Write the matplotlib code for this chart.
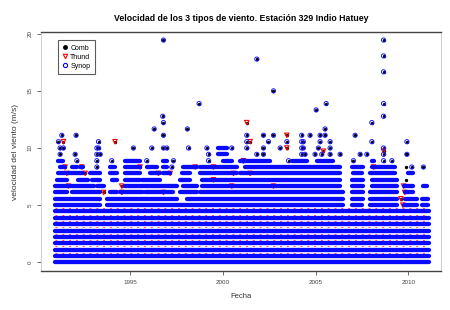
import matplotlib
matplotlib.use('Agg')
import matplotlib.pyplot as plt
from matplotlib.lines import Line2D

plt.rcParams['font.family'] = ['Liberation Sans', 'DejaVu Sans']

# ---------------- data (speeds recorded in km/h, plotted in m/s) ----------------
# Dense Synop records: (speed km/h, from year, to year)
band_kmh = [0, 2, 4, 6, 8, 10, 12, 14, 16,
            18, 18, 18, 18, 18, 18,
            20, 20, 20, 20, 20, 20, 20,
            22, 22, 22, 22, 22, 22, 22, 22, 22, 22,
            24, 24, 24, 24, 24, 24, 24, 24, 24,
            26, 26, 26, 26, 26, 26, 26, 26, 26, 26,
            28, 28, 28, 28, 28, 28, 28, 28, 28, 28, 28, 28, 28,
            30, 30, 30, 30, 30, 30, 30, 30, 30, 30, 30, 30,
            32, 32, 32, 32, 32, 32, 32, 32, 32,
            34, 36]
band_from = [1990.95, 1990.95, 1990.95, 1990.95, 1990.95, 1990.95, 1990.95, 1990.95, 1990.95,
             1990.96, 1993.74, 2006.95, 2007.94, 2009.74, 2010.72,
             1990.96, 1993.74, 1998.06, 2006.95, 2007.94, 2009.83, 2010.72,
             1990.96, 1991.86, 1993.92, 1994.46, 1995.81, 1997.70, 1998.78, 2006.95, 2007.94, 2009.83,
             1990.96, 1993.21, 1994.73, 1997.88, 1998.87, 2006.95, 2008.03, 2009.74, 2010.81,
             1991.05, 1992.22, 1992.94, 1994.01, 1994.73, 1995.63, 1997.70, 1998.87, 2006.95, 2008.03,
             1991.14, 1991.68, 1992.85, 1993.92, 1994.73, 1996.08, 1996.80, 1997.79, 1998.78, 2000.93, 2007.04, 2007.94, 2010.00,
             1991.23, 1991.86, 1992.31, 1993.92, 1994.73, 1995.90, 1996.80, 1997.88, 1998.78, 2001.20, 2006.95, 2008.03,
             1991.14, 1994.73, 1996.80, 1999.99, 2000.93, 2003.72, 2005.06, 2005.42, 2008.03,
             1999.76, 1999.76]
band_to = [2011.10, 2011.10, 2011.10, 2011.10, 2011.10, 2011.10, 2011.10, 2011.10, 2011.10,
           1993.39, 2006.50, 2007.49, 2009.38, 2010.45, 2011.08,
           1993.39, 1997.52, 2006.50, 2007.58, 2009.38, 2010.45, 2011.08,
           1991.59, 1993.39, 1994.28, 1995.72, 1997.34, 1998.60, 2006.50, 2007.58, 2009.38, 2010.27,
           1993.03, 1993.57, 1997.52, 1998.60, 2006.32, 2007.58, 2009.38, 2010.27, 2010.99,
           1991.59, 1992.76, 1993.39, 1994.28, 1995.54, 1996.62, 1998.24, 2006.32, 2007.58, 2009.38,
           1991.50, 1992.49, 1993.39, 1994.28, 1995.54, 1996.62, 1997.16, 1998.24, 2000.75, 2006.32, 2007.49, 2009.29, 2010.27,
           1991.50, 1992.13, 1992.49, 1994.19, 1995.54, 1996.44, 1996.98, 1998.60, 2000.75, 2006.32, 2007.58, 2009.29,
           1991.41, 1995.54, 1996.98, 2000.48, 2002.55, 2004.52, 2005.33, 2005.96, 2008.12,
           2000.21, 2000.21]

# Isolated Synop records (also in Comb)
sparse_year = [1993.21, 1997.25, 2010.18, 2010.81,
               1992.13, 1993.21, 1994.01, 1995.90, 1997.34, 1999.23, 2001.11, 2003.54, 2007.04, 2008.66, 2009.11,
               1991.23, 1992.04, 1993.21, 1993.39, 1999.23, 2001.83, 2002.19, 2004.25, 2004.43, 2004.97,
               2005.33, 2005.78, 2006.32, 2007.40, 2007.76, 2008.66, 2009.92,
               1991.23, 1991.41, 1993.21, 1993.30, 1995.18, 1996.17, 1996.80, 1996.98, 1998.15, 1999.14,
               2000.48, 2001.29, 2002.19, 2003.09, 2004.25, 2004.34, 2005.15, 2005.78, 2008.66,
               1991.14, 1993.30, 2001.29, 2002.46, 2003.45, 2004.25, 2004.34, 2005.24, 2005.78, 2008.03, 2009.92,
               1991.32, 1992.09, 1996.80, 2001.29, 2002.19, 2002.73, 2004.25, 2004.70, 2005.24, 2005.51, 2007.13,
               1996.30, 1998.09, 2005.51,
               1996.80, 2008.03,
               1996.76, 2008.66,
               2005.03,
               1998.72, 2005.57, 2008.66,
               2002.73,
               2008.66,
               2001.83,
               2008.66,
               1996.80, 2008.66]
sparse_kmh = [30, 30, 30, 30,
              32, 32, 32, 32, 32, 32, 32, 32, 32, 32, 32,
              34, 34, 34, 34, 34, 34, 34, 34, 34, 34,
              34, 34, 34, 34, 34, 34, 34,
              36, 36, 36, 36, 36, 36, 36, 36, 36, 36,
              36, 36, 36, 36, 36, 36, 36, 36, 36,
              38, 38, 38, 38, 38, 38, 38, 38, 38, 38, 38,
              40, 40, 40, 40, 40, 40, 40, 40, 40, 40, 40,
              42, 42, 42,
              44, 44,
              46, 46,
              48,
              50, 50, 50,
              54,
              60,
              64,
              65,
              70, 70]

# Isolated Thund records (also in Comb)
thund_year = [1991.41, 1994.19, 1991.50, 1992.40, 1995.54, 1998.51, 1999.49, 1991.59, 1992.58,
              1996.53, 1997.16, 2000.57, 1999.49, 1991.68, 1994.55, 2000.48, 1993.57, 1994.55,
              1996.80, 2001.29, 2001.47, 2003.45, 2003.45, 2005.42, 2008.66, 2001.11, 2001.47,
              2002.73, 2009.74, 2008.12, 2009.60, 2009.70, 2009.80]
thund_kmh = [38, 38, 30, 30, 30, 30, 30, 28, 28,
             28, 28, 28, 26, 24, 24, 24, 22, 22,
             22, 44, 38, 40, 36, 35, 35, 32, 28,
             24, 24, 30, 20, 18, 22]

# Dense Thund records lying between the Synop levels
thund_row_kmh = [3, 5, 7, 9, 11, 13, 15, 17]
thund_row_from = [1990.95, 1990.95, 1990.95, 1990.95, 1990.95, 1990.95, 1990.95, 1990.95]
thund_row_to = [2011.10, 2011.10, 2011.10, 2011.10, 2011.10, 2011.10, 2011.10, 2011.10]

# Comb-only records (no Synop at that time)
comb_year = [1993.35, 1993.35, 1993.35, 1993.35, 1993.35,
             2009.85, 2009.85, 2009.85, 2009.85, 2009.85, 2009.85, 2009.85, 2009.85, 2009.85]
comb_kmh = [6, 10, 14, 20, 26,
            2, 6, 10, 14, 18, 22, 26, 30, 34]

x_ticks = [1995, 2000, 2005, 2010]
y_ticks = [0, 5, 10, 15, 20]
KMH_TO_MS = 1 / 3.6


def ms(values):
    return [v * KMH_TO_MS for v in values]


# ---------------- figure ----------------
fig = plt.figure(figsize=(4.5, 3.1), dpi=100)
ax = fig.add_axes([0.0911, 0.1252, 0.889, 0.7716])

# Comb (black filled)
ax.scatter(sparse_year + thund_year + comb_year, ms(sparse_kmh + thund_kmh + comb_kmh),
           s=6, color='black', linewidths=0, zorder=2)

# Thund (red open down-triangles)
ax.hlines(ms(thund_row_kmh), thund_row_from, thund_row_to, colors='#ff2a2a',
          linewidth=0.7, linestyles=(0, (2, 5)), alpha=0.8, zorder=2.5)
ax.scatter(thund_year, ms(thund_kmh), s=10, marker='v', facecolors='none',
           edgecolors='red', linewidths=0.8, zorder=3)

# Synop (blue open circles)
ax.hlines(ms(band_kmh), band_from, band_to, colors='#0a0aff', linewidth=3.1,
          capstyle='round', zorder=4)
ax.scatter(sparse_year, ms(sparse_kmh), s=9, facecolors='none',
           edgecolors='#1a1aff', linewidths=0.7, zorder=4)

ax.set_xlim(1990.2, 2011.76)
ax.set_ylim(-0.78, 20.15)
ax.set_xticks(x_ticks)
ax.set_xticklabels([str(t) for t in x_ticks])
ax.set_yticks(y_ticks)
ax.set_yticklabels([str(t) for t in y_ticks], rotation=90, va='center')
ax.tick_params(axis='both', direction='out', length=3, width=0.6, colors='#555555',
               labelsize=4.5, labelcolor='#444444', pad=3)

for side in ['top', 'bottom']:
    ax.spines[side].set_color('#444444')
    ax.spines[side].set_linewidth(1.0)
for side in ['left', 'right']:
    ax.spines[side].set_color('#c8c8c8')
    ax.spines[side].set_linewidth(0.6)

ax.set_title('Velocidad de los 3 tipos de viento. Estación 329 Indio Hatuey',
             fontsize=6.3, fontweight='bold', pad=8)
ax.set_xlabel('Fecha', fontsize=5.5, color='#333333', labelpad=6)
ax.set_ylabel('velocidad del viento (m/s)', fontsize=6, color='#333333', labelpad=6)

handles = [
    Line2D([], [], linestyle='none', marker='o', markersize=2.5, color='black'),
    Line2D([], [], linestyle='none', marker='v', markersize=3.2, markerfacecolor='none',
           markeredgecolor='red', markeredgewidth=0.8),
    Line2D([], [], linestyle='none', marker='o', markersize=3.0, markerfacecolor='none',
           markeredgecolor='#0000ff', markeredgewidth=0.8),
]
leg = ax.legend(handles, ['Comb', 'Thund', 'Synop'], loc='upper left',
                bbox_to_anchor=(0.042, 0.965), fontsize=5, frameon=True, fancybox=False,
                handlelength=0.8, handletextpad=0.4, borderpad=0.6, labelspacing=0.3,
                borderaxespad=0)
leg.get_frame().set_edgecolor('#333333')
leg.get_frame().set_linewidth(0.8)

fig.savefig('out.png', dpi=100)
